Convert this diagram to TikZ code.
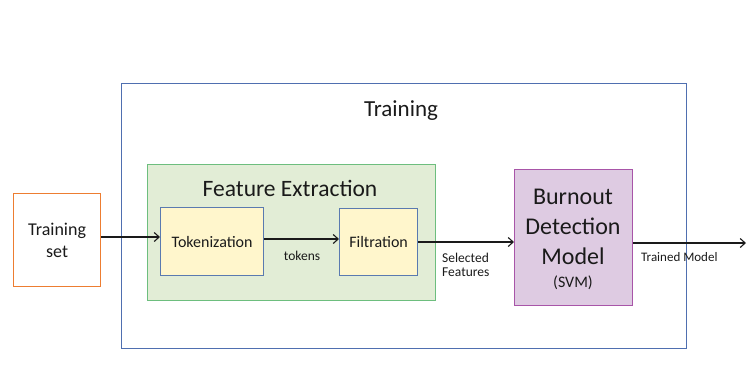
\documentclass[tikz,border=0pt]{standalone}
\usepackage{fontspec}
\setmainfont{Carlito}
\usetikzlibrary{arrows.meta}
\definecolor{orng}{HTML}{ED7D31}
\definecolor{blu}{HTML}{4F6FB0}
\definecolor{grnb}{HTML}{6DBE7E}
\definecolor{grnf}{HTML}{E2EDD6}
\definecolor{yelf}{HTML}{FFF6CC}
\definecolor{yelb}{HTML}{5A7AB0}
\definecolor{purf}{HTML}{DECBE2}
\definecolor{purb}{HTML}{A855A8}
\definecolor{txt}{HTML}{1A1A1A}
\begin{document}
\begin{tikzpicture}[x=1pt,y=-1pt,
  box/.style={draw,line width=1.2pt,inner sep=0pt,anchor=north west,text=txt},
  arr/.style={-{Straight Barb[length=5pt,width=9pt]},line width=1.1pt,draw=txt},
  lbl/.style={text=txt,inner sep=0pt,align=left}]
\useasboundingbox (0,0) rectangle (748,376);
\node[box,draw=blu,minimum width=565pt,minimum height=265pt] (train) at (121,83) {};
\node[text=txt,font=\fontsize{23}{26}\selectfont] (traintitle) at (401,111) {Training};
\node[box,draw=orng,fill=white,minimum width=87pt,minimum height=93pt,align=center,font=\fontsize{18}{22}\selectfont] (tset) at (13,193) {Training\\set};
\node[box,draw=grnb,fill=grnf,minimum width=288pt,minimum height=136pt] (fe) at (147,164) {};
\node[text=txt,font=\fontsize{23.5}{26}\selectfont] (fetitle) at (290,188) {Feature Extraction};
\node[box,draw=yelb,fill=yelf,minimum width=103pt,minimum height=68pt,font=\fontsize{16}{18}\selectfont] (tok) at (160,207) {Tokenization};
\node[box,draw=yelb,fill=yelf,minimum width=78pt,minimum height=67pt,font=\fontsize{16}{18}\selectfont] (filt) at (339,208) {Filtration};
\node[box,draw=purb,fill=purf,minimum width=118pt,minimum height=136pt] (bdm) at (514,169) {};
\node[text=txt,align=center,font=\fontsize{24}{30}\selectfont] (bdmtext) at (573,227) {Burnout\\Detection\\Model};
\node[text=txt,font=\fontsize{16}{18}\selectfont] (svm) at (573,283) {(SVM)};
\coordinate (out) at (746,243);
\draw[arr] (tset.east |- 0,237) -- (tok.west |- 0,237);
\draw[arr] (tok.east |- 0,239) -- (filt.west |- 0,239);
\draw[arr] (filt.east |- 0,242) -- (bdm.west |- 0,242);
\draw[arr] (bdm.east |- 0,243) -- (out);
\node[lbl,font=\fontsize{13.5}{14}\selectfont] (tokens) at (302,256) {tokens};
\node[lbl,anchor=west,font=\fontsize{13.5}{14}\selectfont] (self) at (442,265) {Selected\\Features};
\node[lbl,anchor=west,font=\fontsize{13}{14}\selectfont] (tm) at (641,257) {Trained Model};
\end{tikzpicture}
\end{document}
